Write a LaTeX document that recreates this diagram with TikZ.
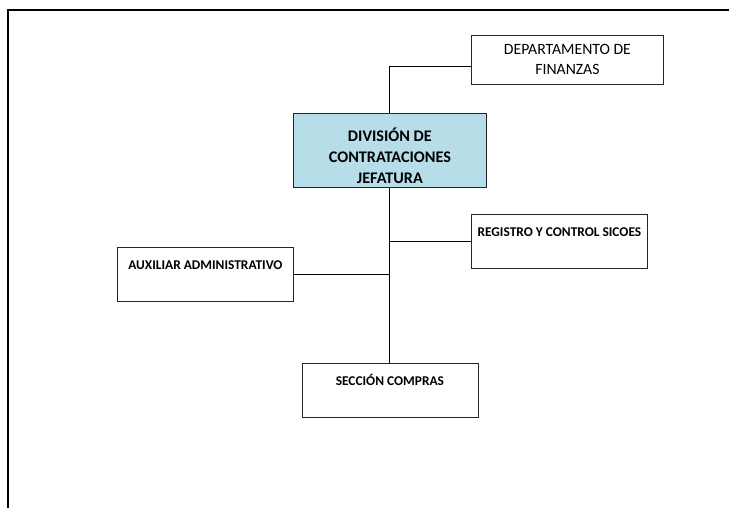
\documentclass[tikz,border=0pt]{standalone}
\usepackage{fontspec}
\setmainfont{Carlito}
\usetikzlibrary{positioning}

\definecolor{jefblue}{HTML}{B7DDE8}

\begin{document}
\begin{tikzpicture}[x=1pt,y=-1pt,thick,
	unit/.style={draw=black!85,line width=0.8pt,rectangle,inner ysep=0pt,minimum width=176pt,text height=22pt,text depth=32pt,font=\fontsize{13.4}{16}\selectfont\bfseries},
	link/.style={draw=black,line width=0.9pt}]
	\useasboundingbox (0,0) rectangle (729,508);
	\draw[line width=2pt] (8,508) -- (8,10) -- (729,10);
	\node[unit,fill=jefblue,anchor=north west,minimum width=193pt,align=center,text height=70pt,text depth=4pt,font=\fontsize{16.2}{21}\selectfont\bfseries] (jef) at (293,113) {DIVISIÓN DE\\CONTRATACIONES\\JEFATURA};
	\node[unit,anchor=north west,minimum width=192pt,minimum height=49pt,align=center,text height=,text depth=,inner ysep=2pt,font=\fontsize{15.7}{20}\selectfont] (fin) at (471,35) {DEPARTAMENTO DE\\FINANZAS};
	\node[unit,anchor=north west] (reg) at (471,214) {REGISTRO Y CONTROL SICOES};
	\node[unit,anchor=north west] (aux) at (117,247) {AUXILIAR ADMINISTRATIVO};
	\node[unit,below=175pt of jef] (com) {SECCIÓN COMPRAS};
	\path[link]
	([yshift=-7pt]fin.west)	-|	(jef.north)
	(jef.south)	--	(com.north)
	(reg.west)	--	(reg.west -| jef.south)
	(aux.east)	--	(aux.east -| jef.south);
\end{tikzpicture}
\end{document}
